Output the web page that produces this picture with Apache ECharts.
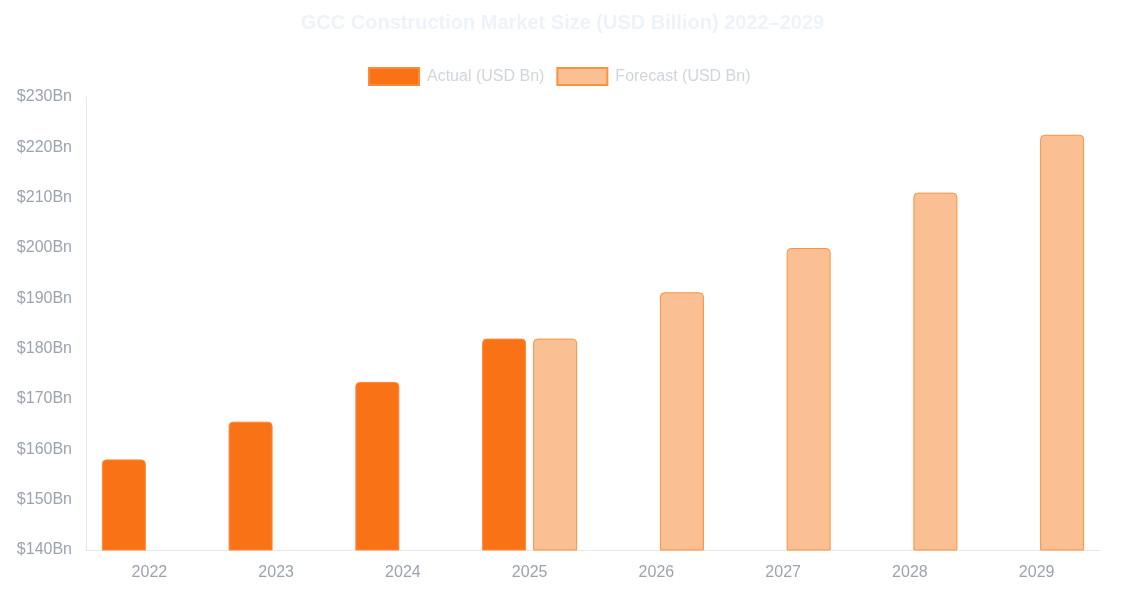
<!DOCTYPE html>
<html>
<head>
<meta charset="utf-8">
<script src="https://cdn.jsdelivr.net/npm/echarts@6/dist/echarts.min.js"></script>
<style>
  html, body { margin: 0; padding: 0; background: #ffffff; }
  #chart { width: 1125px; height: 600px; }
</style>
</head>
<body>
<div id="chart"></div>
<script>
// GCC construction market size, actual vs forecast
const years = ['2022', '2023', '2024', '2025', '2026', '2027', '2028', '2029'];
const actualValues = [158, 165.5, 173.4, 182, null, null, null, null];
const forecastValues = [null, null, null, 182, 191.2, 200, 211, 222.5];

const chart = echarts.init(document.getElementById('chart'));

chart.setOption({
    animation: false,
    title: {
        text: 'GCC Construction Market Size (USD Billion) 2022\u20132029',
        left: 'center',
        top: 8,
        textStyle: { color: '#eef3f9', fontSize: 20, fontWeight: 'bold', fontFamily: 'Liberation Sans, Arial, sans-serif' }
    },
    legend: {
        top: 62,
        left: 363,
        icon: 'rect',
        itemWidth: 50,
        itemHeight: 17,
        itemGap: 12,
        textStyle: { color: '#d1d5db', fontSize: 16, padding: [0, 0, 0, 3], fontFamily: 'Liberation Sans, Arial, sans-serif' }
    },
    grid: { left: 86, right: 25, top: 97, bottom: 50 },
    xAxis: {
        type: 'category',
        data: years,
        axisLine: { lineStyle: { color: '#e5e7eb' } },
        axisTick: { show: false },
        axisLabel: { color: '#9ca3af', fontSize: 16, margin: 15, fontFamily: 'Liberation Sans, Arial, sans-serif' }
    },
    yAxis: {
        type: 'value',
        min: 140,
        max: 230,
        interval: 10,
        axisLine: { show: true, lineStyle: { color: '#e5e7eb' } },
        axisTick: { show: false },
        splitLine: { show: false },
        axisLabel: {
            color: '#9ca3af',
            fontSize: 16,
            margin: 14,
            fontFamily: 'Liberation Sans, Arial, sans-serif',
            formatter: v => '$' + v + 'Bn'
        }
    },
    series: [
        {
            name: 'Actual (USD Bn)',
            type: 'bar',
            data: actualValues,
            barWidth: 44,
            barGap: '16%',
            itemStyle: { color: '#f97316', borderColor: '#fb8a3c', borderWidth: 1, borderRadius: [4, 4, 0, 0] }
        },
        {
            name: 'Forecast (USD Bn)',
            type: 'bar',
            data: forecastValues,
            barWidth: 44,
            itemStyle: { color: '#fbbf94', borderColor: '#fb923c', borderWidth: 1, borderRadius: [4, 4, 0, 0] }
        }
    ]
});

window.addEventListener('resize', () => chart.resize());
</script>
</body>
</html>
